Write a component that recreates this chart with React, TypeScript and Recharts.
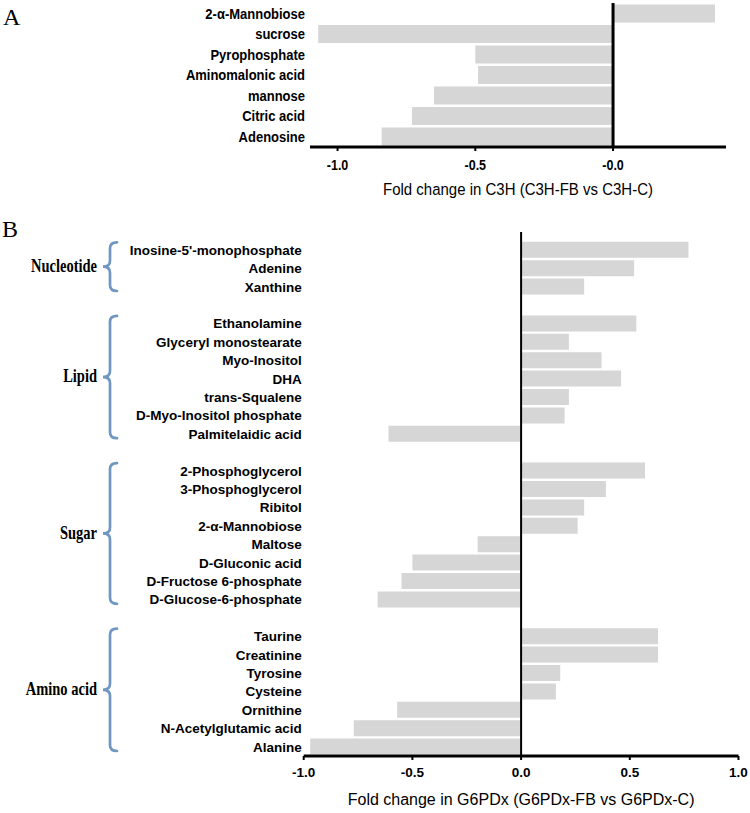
import { Bar, BarChart, ReferenceArea, ReferenceLine, XAxis, YAxis } from "recharts";

const sans = '"Liberation Sans", Arial, sans-serif';
const serif = '"Liberation Serif", "Times New Roman", serif';
const barColor = "#d6d6d6";
const braceColor = "#6f97c1";

// panel A
const c3hNames = [
  "2-α-Mannobiose",
  "sucrose",
  "Pyrophosphate",
  "Aminomalonic acid",
  "mannose",
  "Citric acid",
  "Adenosine",
];
const c3hValues = [0.37, -1.07, -0.5, -0.49, -0.65, -0.73, -0.84];
const c3hTicks = [-1, -0.5, 0];

// panel B
const groupLabels = ["Nucleotide", "Lipid", "Sugar", "Amino acid"];
const nucleotideNames = ["Inosine-5'-monophosphate", "Adenine", "Xanthine"];
const nucleotideValues = [0.77, 0.52, 0.29];
const lipidNames = [
  "Ethanolamine",
  "Glyceryl monostearate",
  "Myo-Inositol",
  "DHA",
  "trans-Squalene",
  "D-Myo-Inositol phosphate",
  "Palmitelaidic acid",
];
const lipidValues = [0.53, 0.22, 0.37, 0.46, 0.22, 0.2, -0.61];
const sugarNames = [
  "2-Phosphoglycerol",
  "3-Phosphoglycerol",
  "Ribitol",
  "2-α-Mannobiose",
  "Maltose",
  "D-Gluconic acid",
  "D-Fructose 6-phosphate",
  "D-Glucose-6-phosphate",
];
const sugarValues = [0.57, 0.39, 0.29, 0.26, -0.2, -0.5, -0.55, -0.66];
const aminoNames = [
  "Taurine",
  "Creatinine",
  "Tyrosine",
  "Cysteine",
  "Ornithine",
  "N-Acetylglutamic acid",
  "Alanine",
];
const aminoValues = [0.63, 0.63, 0.18, 0.16, -0.57, -0.77, -0.97];
const g6pdTicks = [-1, -0.5, 0, 0.5, 1];

const groups = [
  { label: groupLabels[0], names: nucleotideNames, values: nucleotideValues },
  { label: groupLabels[1], names: lipidNames, values: lipidValues },
  { label: groupLabels[2], names: sugarNames, values: sugarValues },
  { label: groupLabels[3], names: aminoNames, values: aminoValues },
];

const c3hData = c3hNames.map((name, i) => ({ name, value: c3hValues[i] }));

const g6pdData: { name: string; value: number | null }[] = [];
groups.forEach((g, gi) => {
  // empty row between groups
  if (gi > 0) g6pdData.push({ name: `gap${gi}`, value: null });
  g.names.forEach((name, i) => g6pdData.push({ name, value: g.values[i] }));
});

const tickStyle = { fill: "#000", fontSize: 13.5, fontWeight: "bold", fontFamily: sans };

// panel A text in the original is a bit taller than it is wide
type StretchProps = {
  x: number;
  y: number;
  text: string;
  anchor: "start" | "middle" | "end";
  size: number;
  bold?: boolean;
  family?: string;
  sy: number;
};
function StretchText({ x, y, text, anchor, size, bold, family = sans, sy }: StretchProps) {
  return (
    <g transform={`translate(${x},${y}) scale(1,${sy})`}>
      <text
        x={0}
        y={0}
        dy="0.355em"
        textAnchor={anchor}
        fontSize={size}
        fontWeight={bold ? "bold" : "normal"}
        fontFamily={family}
        fill="#000"
      >
        {text}
      </text>
    </g>
  );
}

// eslint-disable-next-line @typescript-eslint/no-explicit-any
function Brace(props: any) {
  const { y, height, label } = props;
  const top = y + 1.5;
  const bottom = y + height - 5;
  const mid = (top + bottom) / 2;
  const tip = 103;
  const body = 110;
  const end = 117;
  const r = 6;
  const d =
    `M${end},${top} Q${body},${top} ${body},${top + r} L${body},${mid - r} ` +
    `Q${body},${mid} ${tip},${mid} Q${body},${mid} ${body},${mid + r} ` +
    `L${body},${bottom - r} Q${body},${bottom} ${end},${bottom}`;
  return (
    <g>
      <path d={d} fill="none" stroke={braceColor} strokeWidth={2.7} strokeLinecap="round" />
      <StretchText x={97} y={mid - 1} text={label} anchor="end" size={14.5} bold family={serif} sy={1.25} />
    </g>
  );
}

const panelLetter = {
  position: "absolute" as const,
  fontFamily: serif,
  fontSize: 24,
  lineHeight: "24px",
  color: "#000",
};

export default function App() {
  return (
    <div style={{ position: "absolute", left: 0, top: 0, width: 750, height: 813, background: "#fff" }}>
      <div style={{ ...panelLetter, left: 3, top: 5 }}>A</div>
      <div style={{ ...panelLetter, left: 2, top: 217 }}>B</div>

      <div style={{ position: "absolute", left: 0, top: 0 }}>
        <BarChart
          width={750}
          height={200}
          data={c3hData}
          layout="vertical"
          margin={{ top: 3, right: 24, left: 0, bottom: 0 }}
        >
          <XAxis
            type="number"
            domain={[-1.1, 0.41]}
            allowDataOverflow
            ticks={c3hTicks}
            // eslint-disable-next-line @typescript-eslint/no-explicit-any
            tick={(p: any) => (
              <StretchText
                x={p.x}
                y={p.y + 6}
                text={p.payload.value === 0 ? "-0.0" : p.payload.value.toFixed(1)}
                anchor="middle"
                size={12.5}
                bold
                sy={1.15}
              />
            )}
            tickSize={4}
            tickMargin={8}
            axisLine={{ stroke: "#000", strokeWidth: 3 }}
            tickLine={{ stroke: "#000", strokeWidth: 2 }}
            height={53}
            label={{
              // eslint-disable-next-line @typescript-eslint/no-explicit-any
              content: (p: any) => (
                <StretchText
                  x={p.viewBox.x + p.viewBox.width / 2}
                  y={p.viewBox.y + 42}
                  text="Fold change in C3H (C3H-FB vs C3H-C)"
                  anchor="middle"
                  size={15}
                  sy={1.15}
                />
              ),
            }}
          />
          <YAxis
            type="category"
            dataKey="name"
            width={310}
            interval={0}
            // eslint-disable-next-line @typescript-eslint/no-explicit-any
            tick={(p: any) => (
              <StretchText x={p.x} y={p.y} text={p.payload.value} anchor="end" size={13} bold sy={1.1} />
            )}
            tickSize={0}
            tickMargin={5}
            axisLine={false}
            tickLine={false}
            padding={{ top: 0.5, bottom: 0 }}
          />
          <Bar dataKey="value" fill={barColor} barSize={18} isAnimationActive={false} />
          <ReferenceLine x={0} stroke="#000" strokeWidth={3} />
        </BarChart>
      </div>

      <div style={{ position: "absolute", left: 0, top: 200 }}>
        <BarChart
          width={750}
          height={613}
          data={g6pdData}
          layout="vertical"
          margin={{ top: 32, right: 11.5, left: 0, bottom: 0 }}
        >
          <XAxis
            type="number"
            domain={[-1, 1]}
            allowDataOverflow
            ticks={g6pdTicks}
            tickFormatter={(v: number) => v.toFixed(1)}
            tick={tickStyle}
            tickSize={4}
            tickMargin={7}
            axisLine={{ stroke: "#000", strokeWidth: 3 }}
            tickLine={{ stroke: "#000", strokeWidth: 2 }}
            height={57}
            label={{
              value: "Fold change in G6PDx (G6PDx-FB vs G6PDx-C)",
              position: "insideBottom",
              offset: 8,
              fill: "#000",
              fontSize: 16,
              fontFamily: sans,
            }}
          />
          <YAxis
            type="category"
            dataKey="name"
            width={303.7}
            interval={0}
            tick={tickStyle}
            tickFormatter={(v: string) => (v.startsWith("gap") ? "" : v)}
            tickSize={0}
            tickMargin={2}
            axisLine={false}
            tickLine={false}
            padding={{ top: 8.8, bottom: 0 }}
          />
          {groups.map((g) => (
            <ReferenceArea
              key={g.label}
              y1={g.names[0]}
              y2={g.names[g.names.length - 1]}
              ifOverflow="visible"
              shape={(p: object) => <Brace {...p} label={g.label} />}
            />
          ))}
          <Bar dataKey="value" fill={barColor} barSize={16} isAnimationActive={false} />
          <ReferenceLine x={0} stroke="#000" strokeWidth={2} />
        </BarChart>
      </div>
    </div>
  );
}
